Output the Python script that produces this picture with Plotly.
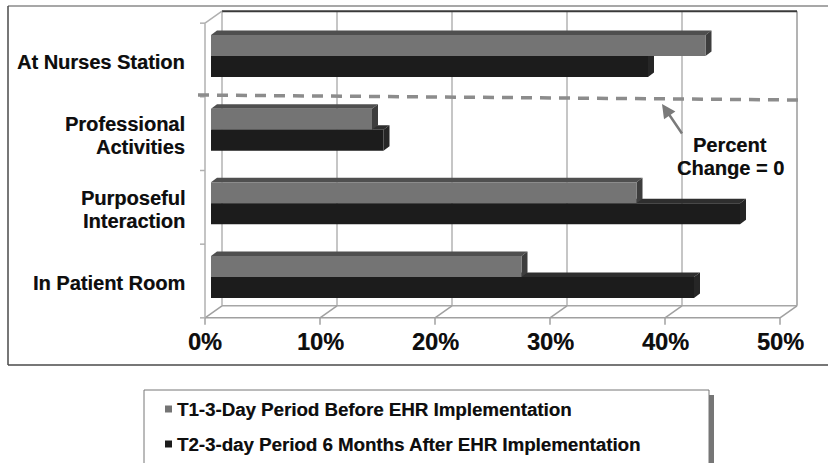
import plotly.graph_objects as go

# ---- data -------------------------------------------------------------
categories = ["In Patient Room", "Purposeful<br>Interaction",
              "Professional<br>Activities", "At Nurses Station"]
t1_before = [27, 37, 14, 43]
t2_after = [42, 46, 15, 38]
series_names = ["T1-3-Day Period Before EHR Implementation",
                "T2-3-day Period 6 Months After EHR Implementation"]
tick_values = [0, 10, 20, 30, 40, 50]
tick_labels = ["0%", "10%", "20%", "30%", "40%", "50%"]

# ---- geometry of the pseudo-3D frame -----------------------------------
W, H = 828, 463
PX_PER_PCT = 11.5      # pixels per percentage point
ZERO_PX = 211          # pixel column of 0% in the bar plane
PX_PER_ROW = 73.67     # pixels between category rows
ROW0_PX = 277          # pixel row of the bottom category centre

x_range = [-ZERO_PX / PX_PER_PCT, (W - ZERO_PX) / PX_PER_PCT]
y_range = [(ROW0_PX - H) / PX_PER_ROW, ROW0_PX / PX_PER_ROW]


def ux(px):
    return px / PX_PER_PCT


def uy(px):  # upward pixels -> row units
    return px / PX_PER_ROW


FRONT = (ux(-6), uy(-4))
BACK = (ux(11), uy(8))
BAR_DEPTH = (ux(6), uy(4.5))
BAR_W = uy(21)

rows = list(range(len(categories)))
x_max = tick_values[-1]
row_lo, row_hi = -0.5, len(categories) - 0.5

FONT = "Liberation Sans, Arial, sans-serif"
C_T1, C_T2 = "#747474", "#1c1c1c"
C_T1_TOP, C_T1_END = "#4f4f4f", "#3d3d3d"
C_T2_TOP, C_T2_END = "#2e2e2e", "#262626"
GRID = "#b3b3b3"
TXT = "#0e0e0e"
SHADOW = "0.4px 0.4px 0.6px rgba(0,0,0,0.45)"

fig = go.Figure()
fig.add_trace(go.Bar(orientation="h", x=t1_before, y=rows, width=BAR_W, offset=0,
                     marker=dict(color=C_T1, line=dict(width=0)),
                     name=series_names[0], showlegend=False, hoverinfo="skip"))
fig.add_trace(go.Bar(orientation="h", x=t2_after, y=rows, width=BAR_W, offset=-BAR_W,
                     marker=dict(color=C_T2, line=dict(width=0)),
                     name=series_names[1], showlegend=False, hoverinfo="skip"))

shapes = []


def seg(p0, p1, color, width, layer="below", dash=None):
    shapes.append(dict(type="line", xref="x", yref="y", x0=p0[0], y0=p0[1],
                       x1=p1[0], y1=p1[1], layer=layer,
                       line=dict(color=color, width=width, dash=dash)))


def poly(pts, color):
    path = "M " + " L ".join(f"{x},{y}" for x, y in pts) + " Z"
    shapes.append(dict(type="path", xref="x", yref="y", path=path, layer="below",
                       fillcolor=color, line=dict(width=0)))


def on(plane, v, k):
    return (v + plane[0], k + plane[1])


# back wall grid
for t in tick_values:
    seg(on(BACK, t, row_lo), on(BACK, t, row_hi), GRID, 1.5 if t < x_max else 2)
seg(on(BACK, 0, row_hi), on(BACK, x_max, row_hi), "#3a3a3a", 2)
# floor
seg(on(BACK, 0, row_lo), on(BACK, x_max, row_lo), "#a6a6a6", 1.5)
seg(on(FRONT, 0, row_lo), on(FRONT, x_max, row_lo), "#a0a0a0", 1.5)
for t in tick_values:
    seg(on(FRONT, t, row_lo), on(BACK, t, row_lo), "#a0a0a0", 1.5)
    seg(on(FRONT, t, row_lo), on(FRONT, t, row_lo - uy(7)), "#a0a0a0", 1.5)
# left wall
seg(on(FRONT, 0, row_lo), on(FRONT, 0, row_hi), "#b0b0b0", 1.5)
seg(on(FRONT, 0, row_hi), on(BACK, 0, row_hi), "#b0b0b0", 1.5)
for k in [row_lo + i for i in range(len(categories) + 1)]:
    seg(on(FRONT, -ux(5), k), on(FRONT, 0, k), "#b0b0b0", 1.5)

# bar depth faces (front faces are the Bar traces)
dx, dy = BAR_DEPTH
for i in rows:
    c, v1, v2 = rows[i], t1_before[i], t2_after[i]
    poly([(0, c), (v2, c), (v2 + dx, c + dy), (dx, c + dy)], C_T2_TOP)
    poly([(v2, c - BAR_W), (v2, c), (v2 + dx, c + dy), (v2 + dx, c - BAR_W + dy)], C_T2_END)
for i in rows:
    c, v1 = rows[i], t1_before[i]
    poly([(0, c + BAR_W), (v1, c + BAR_W), (v1 + dx, c + BAR_W + dy), (dx, c + BAR_W + dy)], C_T1_TOP)
    poly([(v1, c), (v1, c + BAR_W), (v1 + dx, c + BAR_W + dy), (v1 + dx, c + dy)], C_T1_END)


def px(x):
    return x / W


def py(y):
    return 1 - y / H


def pline(x0, y0, x1, y1, color, width):
    shapes.append(dict(type="line", xref="paper", yref="paper", x0=px(x0), y0=py(y0),
                       x1=px(x1), y1=py(y1), layer="below",
                       line=dict(color=color, width=width)))


# outer chart frame (open on the right)
pline(8, 6, W, 6, "#8a8a8a", 1.5)
pline(8, 6, 8, 365, "#4a4a4a", 1.5)
pline(8, 365, W, 365, "#4a4a4a", 1.5)
# "percent change = 0" reference line
shapes.append(dict(type="line", xref="paper", yref="paper", x0=px(198), y0=py(95),
                   x1=px(801), y1=py(100), layer="above",
                   line=dict(color="#8c8c8c", width=3.5, dash="11px,8px")))
# legend box with drop shadow
shapes.append(dict(type="rect", xref="paper", yref="paper", x0=px(150), y0=py(395),
                   x1=px(714), y1=py(480), layer="above",
                   fillcolor="rgba(60,60,60,0.7)", line=dict(width=0)))
shapes.append(dict(type="rect", xref="paper", yref="paper", x0=px(144), y0=py(390),
                   x1=px(709), y1=py(480), layer="above",
                   fillcolor="white", line=dict(color="#777777", width=1)))
legend_rows_px = [409, 444]
for (ly, col) in zip(legend_rows_px, [C_T1, C_T2]):
    shapes.append(dict(type="rect", xref="paper", yref="paper", x0=px(165), y0=py(ly - 3.5),
                       x1=px(172), y1=py(ly + 3.5), layer="above",
                       fillcolor=col, line=dict(width=0)))

annotations = []
LINE_GAP = 23  # px between lines of a wrapped label


def tfont(size):
    return dict(family=FONT, size=size, color=TXT, weight="bold", shadow=SHADOW)


# category labels
for k, lab in zip(rows, categories):
    parts = lab.split("<br>")
    n = len(parts)
    for j, part in enumerate(parts):
        shift = -6 + (0.5 * (n - 1) - j) * LINE_GAP
        annotations.append(dict(xref="paper", yref="y", x=px(187), y=k, yshift=shift,
                                xanchor="right", yanchor="middle", align="right", text=part,
                                showarrow=False, font=tfont(20)))
# value axis tick labels on the front floor edge
for t, lab in zip(tick_values, tick_labels):
    annotations.append(dict(xref="x", yref="y", x=t + FRONT[0], y=row_lo + FRONT[1],
                            yshift=-24, xanchor="center", yanchor="middle", text=lab,
                            showarrow=False, font=tfont(23.5)))
# reference line callout
annotations.append(dict(xref="paper", yref="paper", x=px(662), y=py(104), text="",
                        showarrow=True, ax=21, ay=31, arrowcolor="#7a7a7a",
                        arrowwidth=2.5, arrowhead=2, arrowsize=1.1, standoff=0))
for j, part in enumerate(["Percent", "Change = 0"]):
    annotations.append(dict(xref="paper", yref="paper", x=px(730), y=py(145 + j * LINE_GAP),
                            text=part, showarrow=False,
                            xanchor="center", yanchor="middle", font=tfont(20)))
# legend entries
for ly, name in zip(legend_rows_px, series_names):
    annotations.append(dict(xref="paper", yref="paper", x=px(175), y=py(ly),
                            xanchor="left", yanchor="middle", text=name, showarrow=False,
                            font=tfont(18.7)))

fig.update_layout(
    width=W, height=H,
    margin=dict(l=0, r=0, t=0, b=0),
    paper_bgcolor="white", plot_bgcolor="white",
    xaxis=dict(range=x_range, visible=False, fixedrange=True),
    yaxis=dict(range=y_range, visible=False, fixedrange=True),
    barmode="overlay",
    showlegend=False,
    shapes=shapes,
    annotations=annotations,
)

fig.write_html("out.html")
